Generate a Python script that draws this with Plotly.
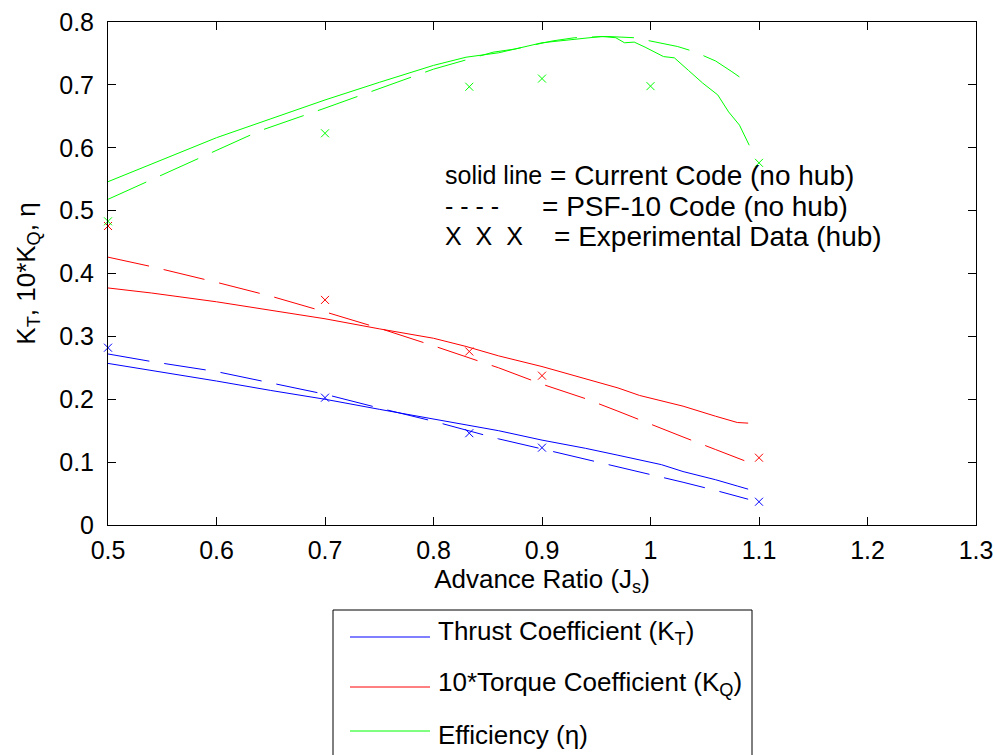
import plotly.graph_objects as go

# ---------------- data ----------------
J_lines = [0.50, 0.54, 0.60, 0.65, 0.70, 0.75, 0.80, 0.83, 0.86, 0.90,
           0.94, 0.97, 0.99, 1.01, 1.03, 1.06, 1.08, 1.09]

KT_current = [0.257, 0.246, 0.229, 0.214, 0.200, 0.184, 0.168, 0.159, 0.150, 0.135,
              0.122, 0.111, 0.103, 0.096, 0.085, 0.072, 0.062, 0.057]
KT_psf10 = [0.272, 0.260, 0.244, 0.226, 0.208, 0.186, 0.165, 0.151, 0.137, 0.121,
            0.105, 0.093, 0.085, 0.076, 0.068, 0.055, 0.046, 0.041]

KQ10_current = [0.377, 0.369, 0.355, 0.342, 0.328, 0.312, 0.297, 0.284, 0.269, 0.252,
                0.232, 0.218, 0.206, 0.197, 0.189, 0.173, 0.163, 0.162]
KQ10_psf10 = [0.426, 0.411, 0.386, 0.364, 0.339, 0.313, 0.285, 0.268, 0.250, 0.224,
              0.201, 0.181, 0.167, 0.154, 0.140, 0.120, 0.106, 0.100]

J_eta_current = [0.50, 0.54, 0.60, 0.65, 0.70, 0.75, 0.80, 0.83, 0.86, 0.90, 0.93,
                 0.955, 0.968, 0.976, 0.985, 0.995, 1.012, 1.022, 1.035, 1.048,
                 1.062, 1.072, 1.082, 1.091]
eta_current = [0.546, 0.574, 0.616, 0.646, 0.676, 0.704, 0.731, 0.744, 0.751, 0.767,
               0.773, 0.777, 0.775, 0.767, 0.768, 0.760, 0.745, 0.743, 0.723, 0.703,
               0.684, 0.657, 0.636, 0.604]

J_eta_psf10 = [0.50, 0.54, 0.59, 0.64, 0.70, 0.75, 0.80, 0.855, 0.875, 0.91, 0.93,
               0.96, 0.985, 1.005, 1.025, 1.04, 1.06, 1.075, 1.09]
eta_psf10 = [0.518, 0.549, 0.588, 0.627, 0.663, 0.694, 0.725, 0.752, 0.757, 0.770,
             0.775, 0.777, 0.775, 0.768, 0.761, 0.753, 0.738, 0.721, 0.703]

J_exp = [0.5, 0.7, 0.833, 0.9, 1.0, 1.1]
KT_exp = [0.282, 0.2025, 0.146, 0.123, None, 0.037]
KQ10_exp = [0.4755, 0.358, 0.276, 0.2375, None, 0.107]
eta_exp = [0.483, 0.623, 0.697, 0.710, 0.698, 0.576]

x_ticks = [0.5, 0.6, 0.7, 0.8, 0.9, 1.0, 1.1, 1.2, 1.3]
x_ticklabels = ["0.5", "0.6", "0.7", "0.8", "0.9", "1", "1.1", "1.2", "1.3"]
y_ticks = [0, 0.1, 0.2, 0.3, 0.4, 0.5, 0.6, 0.7, 0.8]
y_ticklabels = ["0", "0.1", "0.2", "0.3", "0.4", "0.5", "0.6", "0.7", "0.8"]

legend_labels = ["Thrust Coefficient (K<sub>T</sub>)",
                 "10*Torque Coefficient (K<sub>Q</sub>)",
                 "Efficiency (\u03b7)"]
note_left = ["solid line", "- - - -", "X  X  X"]
note_right = ["= Current Code (no hub)", "= PSF-10 Code (no hub)",
              "= Experimental Data (hub)"]

# ---------------- styling ----------------
BLUE, RED, GREEN = "#0000ff", "#ff0000", "#00ff00"
FONT = "Liberation Sans, Arial, Helvetica, sans-serif"
DASH = "42px,15px"

W, H = 995, 755
L, R, T, B = 108, 976, 22, 525


def pxx(p):
    return (p - L) / (R - L)


def pxy(p):
    return (B - p) / (B - T)


fig = go.Figure()

series = [
    (J_lines, KT_current, KT_psf10, KT_exp, BLUE),
    (J_lines, KQ10_current, KQ10_psf10, KQ10_exp, RED),
]
for jl, cur, psf, exp, col in series:
    fig.add_trace(go.Scatter(x=jl, y=cur, mode="lines",
                             line=dict(color=col, width=1), showlegend=False))
    fig.add_trace(go.Scatter(x=jl, y=psf, mode="lines",
                             line=dict(color=col, width=1, dash=DASH), showlegend=False))
    fig.add_trace(go.Scatter(x=J_exp, y=exp, mode="markers", cliponaxis=False,
                             marker=dict(symbol="x-thin", size=8,
                                         line=dict(color=col, width=1)),
                             showlegend=False))

fig.add_trace(go.Scatter(x=J_eta_current, y=eta_current, mode="lines",
                         line=dict(color=GREEN, width=1), showlegend=False))
fig.add_trace(go.Scatter(x=J_eta_psf10, y=eta_psf10, mode="lines",
                         line=dict(color=GREEN, width=1, dash=DASH), showlegend=False))
fig.add_trace(go.Scatter(x=J_exp, y=eta_exp, mode="markers", cliponaxis=False,
                         marker=dict(symbol="x-thin", size=8,
                                     line=dict(color=GREEN, width=1)),
                         showlegend=False))

axis_common = dict(showline=True, linecolor="black", linewidth=1, mirror="ticks",
                   ticks="inside", ticklen=8, tickcolor="black", tickwidth=1,
                   showgrid=False, zeroline=False, automargin=False,
                   tickfont=dict(family=FONT, size=25, color="black"))

fig.update_xaxes(range=[0.5, 1.3], tickmode="array", tickvals=x_ticks,
                 ticktext=x_ticklabels, ticklabelstandoff=3,
                 title=dict(text="Advance Ratio (J<sub>s</sub>)", standoff=1,
                            font=dict(family=FONT, size=26, color="black")),
                 **axis_common)
fig.update_yaxes(range=[0, 0.8], tickmode="array", tickvals=y_ticks,
                 ticktext=y_ticklabels, ticklabelstandoff=8,
                 title=dict(text="K<sub>T</sub>, 10*K<sub>Q</sub>, \u03b7", standoff=16,
                            font=dict(family=FONT, size=26, color="black")),
                 **axis_common)

# annotation text block inside the plot
note_y = [175, 206, 236]
note_rx = [548, 540, 552]
for i in range(3):
    fig.add_annotation(x=pxx(443), y=pxy(note_y[i]), xref="paper", yref="paper",
                       text=note_left[i], showarrow=False, xanchor="left",
                       yanchor="middle", font=dict(family=FONT, size=25, color="black"))
    fig.add_annotation(x=pxx(note_rx[i]), y=pxy(note_y[i]), xref="paper", yref="paper",
                       text=note_right[i], showarrow=False, xanchor="left",
                       yanchor="middle", font=dict(family=FONT, size=28, color="black"))

# legend box below the axes
fig.add_shape(type="rect", xref="paper", yref="paper",
              x0=pxx(333), x1=pxx(752), y0=pxy(610), y1=pxy(800),
              line=dict(color="black", width=1), fillcolor="white", layer="above")
leg_line_y = [637, 687, 731]
leg_text_y = [632, 683, 735]
leg_cols = [BLUE, RED, GREEN]
for i in range(3):
    fig.add_shape(type="line", xref="paper", yref="paper",
                  x0=pxx(350), x1=pxx(430), y0=pxy(leg_line_y[i]), y1=pxy(leg_line_y[i]),
                  line=dict(color=leg_cols[i], width=1), layer="above")
    fig.add_annotation(x=pxx(436), y=pxy(leg_text_y[i]), xref="paper", yref="paper",
                       text=legend_labels[i], showarrow=False, xanchor="left",
                       yanchor="middle", font=dict(family=FONT, size=26, color="black"))

fig.update_layout(width=W, height=H,
                  margin=dict(l=L, r=W - R, t=T, b=H - B, pad=0),
                  paper_bgcolor="white", plot_bgcolor="white",
                  showlegend=False)

fig.write_html("out.html", config={"displayModeBar": False},
               post_script="document.body.style.margin='0';"
                           "document.body.style.overflow='hidden';")
